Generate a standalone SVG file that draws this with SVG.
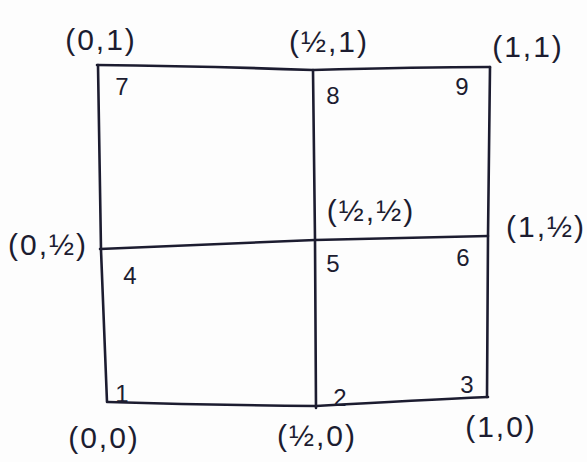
<svg xmlns="http://www.w3.org/2000/svg" width="587" height="462" viewBox="0 0 587 462">
<style>
.ln{stroke:#1c1c30;stroke-width:2.6;fill:none;stroke-linecap:round}
.co{font-family:"Liberation Sans","DejaVu Sans",sans-serif;font-size:30px;letter-spacing:2px;fill:#1c1c30;text-anchor:middle}
.nm{font-family:"Liberation Sans","DejaVu Sans",sans-serif;font-size:24px;fill:#1c1c30;text-anchor:middle}
</style>
<rect width="587" height="462" fill="#fdfdfd"/>
<g id="connectors">
<path class="ln" d="M97,65 Q200,66 313,70 Q420,67 490,67"/>
<path class="ln" d="M100,249 Q200,245 315,240 L488,236"/>
<path class="ln" d="M108,402 Q210,405 316,406 Q420,400 488,397"/>
<path class="ln" d="M98,65 L101,250 L107,402"/>
<path class="ln" d="M313,70 L315,240 L316,408"/>
<path class="ln" d="M490,67 L488,236 L487,397"/>
</g>
<g id="coord-0-1"><text class="co" x="101" y="50">(0,1)</text></g>
<g id="coord-h-1"><text class="co" x="329" y="52">(½,1)</text></g>
<g id="coord-1-1"><text class="co" x="528" y="57">(1,1)</text></g>
<g id="coord-0-h"><text class="co" x="48" y="255">(0,½)</text></g>
<g id="coord-h-h"><text class="co" x="371" y="221">(½,½)</text></g>
<g id="coord-1-h"><text class="co" x="546" y="237">(1,½)</text></g>
<g id="coord-0-0"><text class="co" x="104" y="448">(0,0)</text></g>
<g id="coord-h-0"><text class="co" x="317" y="446">(½,0)</text></g>
<g id="coord-1-0"><text class="co" x="501" y="437">(1,0)</text></g>
<g id="n7"><text class="nm" x="122" y="95">7</text></g>
<g id="n8"><text class="nm" x="333" y="104">8</text></g>
<g id="n9"><text class="nm" x="462" y="95">9</text></g>
<g id="n4"><text class="nm" x="130" y="284">4</text></g>
<g id="n5"><text class="nm" x="333" y="272">5</text></g>
<g id="n6"><text class="nm" x="463" y="266">6</text></g>
<g id="n1"><text class="nm" x="122" y="402">1</text></g>
<g id="n2"><text class="nm" x="340" y="406">2</text></g>
<g id="n3"><text class="nm" x="467" y="393">3</text></g>
</svg>
